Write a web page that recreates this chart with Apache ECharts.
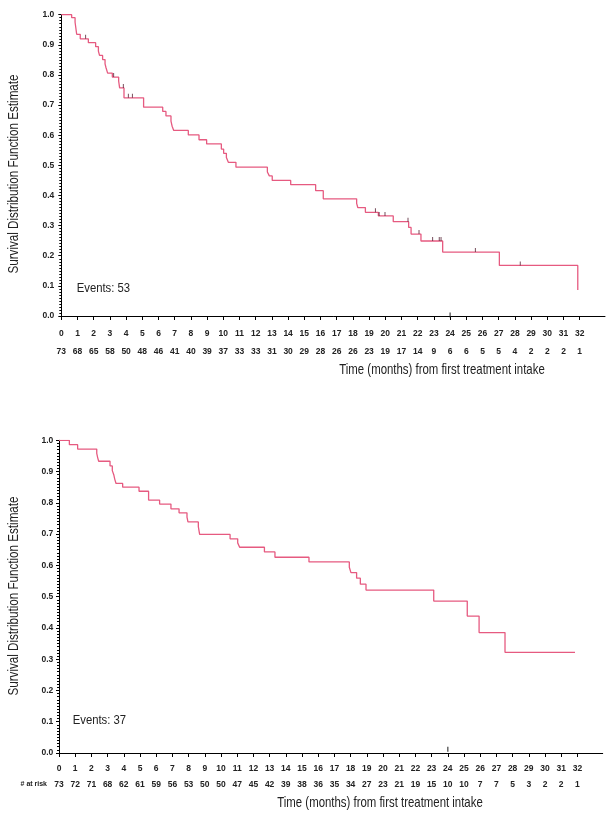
<!DOCTYPE html>
<html>
<head>
<meta charset="utf-8">
<script src="https://cdn.jsdelivr.net/npm/echarts@6/dist/echarts.min.js"></script>
<style>
html,body{margin:0;padding:0;background:#fff;}
#chart{width:610px;height:815px;}
</style>
</head>
<body>
<div id="chart"></div>
<script>
// ---- data ----
var monthTicks = [0,1,2,3,4,5,6,7,8,9,10,11,12,13,14,15,16,17,18,19,20,21,22,23,24,25,26,27,28,29,30,31,32];
var yTicks = [0,0.1,0.2,0.3,0.4,0.5,0.6,0.7,0.8,0.9,1.0];

var topAtRisk = [73,68,65,58,50,48,46,41,40,39,37,33,33,31,30,29,28,26,26,23,19,17,14,9,6,6,5,5,4,2,2,2,1];
var bottomAtRisk = [73,72,71,68,62,61,59,56,53,50,50,47,45,42,39,38,36,35,34,27,23,21,19,15,10,10,7,7,5,3,2,2,1];

var topTimes = [0,0.64,0.85,0.95,1.17,1.67,2.12,2.29,2.36,2.55,2.70,2.76,2.86,3.15,3.54,3.60,3.87,5.08,6.26,6.46,6.77,6.84,6.94,7.84,8.50,8.97,9.88,10.02,10.19,10.31,10.78,12.72,12.84,13.02,14.16,15.70,16.17,18.23,18.30,18.77,19.57,20.49,21.44,21.59,22.20,23.54,27.04,31.88];
var topSurv = [1.0,0.99,0.975,0.935,0.92,0.907,0.894,0.879,0.865,0.851,0.837,0.824,0.806,0.793,0.78,0.757,0.724,0.693,0.679,0.664,0.647,0.630,0.616,0.601,0.585,0.571,0.554,0.54,0.526,0.51,0.494,0.478,0.465,0.45,0.436,0.416,0.389,0.374,0.36,0.344,0.332,0.313,0.294,0.272,0.249,0.212,0.168,0.086];
var topCensorT = [1.50,3.23,3.83,4.14,4.39,19.39,19.62,19.98,21.40,22.08,22.92,23.33,23.44,25.56,28.33];
var topCensorS = [0.92,0.793,0.757,0.724,0.724,0.344,0.332,0.332,0.313,0.272,0.249,0.249,0.249,0.212,0.168];

var bottomTimes = [0,0.64,1.15,2.33,2.39,2.45,3.15,3.29,3.38,3.44,3.52,3.93,4.94,5.53,6.21,6.91,7.41,7.90,7.96,8.60,8.68,10.56,11.03,11.15,12.68,13.33,15.43,17.92,18.02,18.37,18.60,18.95,23.13,25.20,25.93,27.53,31.85];
var bottomSurv = [1.0,0.986,0.972,0.958,0.944,0.933,0.918,0.903,0.89,0.876,0.862,0.85,0.837,0.809,0.796,0.781,0.768,0.754,0.739,0.724,0.699,0.685,0.672,0.658,0.643,0.626,0.611,0.594,0.577,0.559,0.540,0.521,0.486,0.438,0.385,0.322,0.322];

var axisMarkMonth = [24];
var topEvents = 53;
var bottomEvents = 37;

// ---- helpers ----
function zip(a, b){ return a.map(function(v,i){ return [v, b[i]]; }); }
var LINE_COLOR = '#e65a80';
var SANS = "'Liberation Sans',Arial,sans-serif";
var XMAX = 33.56;

function monthAxis(grid, offset, margin){
  return {
    type:'value', gridIndex:grid, min:0, max:XMAX, position:'bottom', offset:offset,
    axisLine:{show:true, lineStyle:{color:'#000', width:1}},
    axisTick:{show:true, customValues:monthTicks, length:4, lineStyle:{color:'#000', width:1}},
    axisLabel:{show:true, customValues:monthTicks, margin:margin, fontSize:8.5, fontWeight:'bold', color:'#222', fontFamily:SANS,
      formatter:function(v){ return String(Math.round(v)); }},
    splitLine:{show:false}
  };
}
function riskAxis(grid, offset, margin, arr){
  return {
    type:'value', gridIndex:grid, min:0, max:XMAX, position:'bottom', offset:offset,
    axisLine:{show:false}, axisTick:{show:false}, splitLine:{show:false},
    axisLabel:{show:true, customValues:monthTicks, margin:margin, fontSize:8.5, fontWeight:'bold', color:'#222', fontFamily:SANS,
      formatter:function(v){ var i = Math.round(v); return arr[i] === undefined ? '' : String(arr[i]); }}
  };
}
function survAxis(grid, offset, margin){
  return {
    type:'value', gridIndex:grid, min:0, max:1, interval:0.1, offset:offset,
    axisLine:{show:true, lineStyle:{color:'#000', width:1}},
    axisTick:{show:true, length:3, lineStyle:{color:'#000'}},
    minorTick:{show:true, splitNumber:10, length:2, lineStyle:{color:'#000'}},
    axisLabel:{margin:margin, fontSize:8.5, fontWeight:'bold', color:'#222', fontFamily:SANS,
      formatter:function(v){ return v.toFixed(1); }},
    splitLine:{show:false}
  };
}
function curve(xi, yi, t, s){
  return {type:'line', xAxisIndex:xi, yAxisIndex:yi, step:'end', showSymbol:false, symbol:'none',
    lineStyle:{color:LINE_COLOR, width:1.3}, data:zip(t, s), animation:false, z:3};
}
function censor(xi, yi, t, s){
  return {type:'scatter', xAxisIndex:xi, yAxisIndex:yi, symbol:'rect', symbolSize:[1,4], symbolOffset:[0,-2],
    itemStyle:{color:'#552233'}, data:zip(t, s), animation:false, z:4};
}
function axisMark(xi, yi, off){
  return {type:'scatter', xAxisIndex:xi, yAxisIndex:yi, symbol:'rect', symbolSize:[1.3,5], symbolOffset:[0,off],
    itemStyle:{color:'#222'}, data:axisMarkMonth.map(function(m){ return [m, 0]; }), animation:false, z:4};
}
function label(text, x, y, size, sx, rot, align){
  return {type:'text', x:x, y:y, rotation:rot || 0, scaleX:sx, scaleY:1,
    style:{text:text, font:size + 'px ' + SANS, fill:'#222', textAlign:align || 'center', textVerticalAlign:'middle'}};
}

var chart = echarts.init(document.getElementById('chart'), null, {renderer:'canvas'});
var option = {
  backgroundColor:'#fff',
  animation:false,
  grid:[
    {left:61.3, top:14.7, width:543.7, height:301.3},
    {left:59, top:440.3, width:543.7, height:312.7}
  ],
  xAxis:[
    monthAxis(0, 5.7, 7.5),
    riskAxis(0, 5.7, 25, topAtRisk),
    monthAxis(1, 2.7, 8.5),
    riskAxis(1, 2.7, 24.5, bottomAtRisk)
  ],
  yAxis:[
    survAxis(0, 2, 5),
    survAxis(1, 1.7, 4)
  ],
  series:[
    curve(0, 0, topTimes, topSurv),
    censor(0, 0, topCensorT, topCensorS),
    axisMark(0, 0, -1),
    curve(2, 1, bottomTimes, bottomSurv),
    axisMark(2, 1, -3.7)
  ],
  graphic:[
    label('Survival Distribution Function Estimate', 14, 174, 15, 0.775, Math.PI/2),
    label('Survival Distribution Function Estimate', 14, 596, 15, 0.775, Math.PI/2),
    label('Time (months) from first treatment intake', 442, 370, 15, 0.76),
    label('Time (months) from first treatment intake', 380, 803, 15, 0.76),
    label('Events: ' + topEvents, 76.7, 288.3, 13, 0.87, 0, 'left'),
    label('Events: ' + bottomEvents, 72.7, 720, 13, 0.87, 0, 'left'),
    {type:'text', x:47, y:784, style:{text:'# at risk', font:'bold 7px ' + SANS, fill:'#222', textAlign:'right', textVerticalAlign:'middle'}}
  ]
};
chart.setOption(option);
</script>
</body>
</html>
